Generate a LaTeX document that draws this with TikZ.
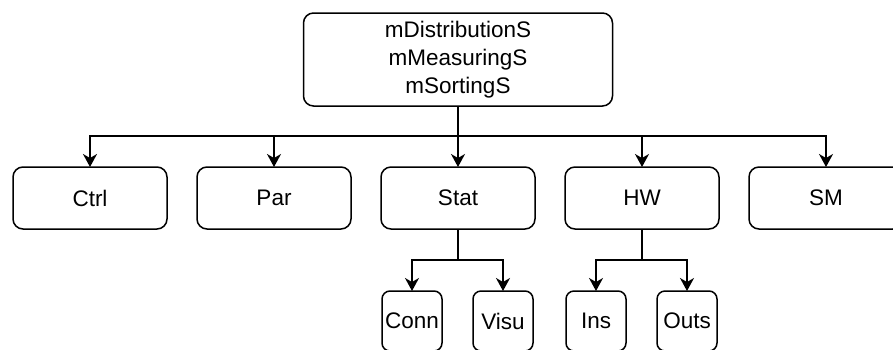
\documentclass[tikz,border=0pt]{standalone}
\usepackage{fontspec}
\setmainfont{Liberation Sans}
\usetikzlibrary{positioning}
\usetikzlibrary{arrows.meta}

\begin{document}
\begin{tikzpicture}[x=1pt,y=1pt,
		blk/.style={rectangle,draw,rounded corners=10pt,line width=1.5pt,outer sep=0pt,minimum width=154pt,minimum height=62pt,font=\fontsize{22.5}{27.7}\selectfont},
		sub/.style={blk,rounded corners=8pt,minimum width=60pt,minimum height=60pt,inner sep=0pt},
		arr/.style={-{Stealth[length=13pt,width=14pt,inset=4pt]},line width=1.5pt}]
		\clip (0,0) rectangle (893,-349);
		\node[blk,align=center,minimum width=309pt,minimum height=93pt] at (458,-59.5) (m0) {mDistributionS\\mMeasuringS\\mSortingS};
		\node [blk,below = 61pt of m0] (m3) {Stat};
		\node [blk,left = 30pt of m3] (m2) {Par};
		\node [blk,left = 30pt of m2] (m1) {Ctrl};
		\node [blk,right = 30pt of m3] (m4) {HW};
		\node [blk,right = 30pt of m4] (m5) {SM};
		\coordinate [below = 30pt of m0.south] (c0);
		\draw [arr] (m0.south) -- (m3.north);
		\draw [arr] (m0.south) -- (c0) -| (m1.north);
		\draw [arr] (m0.south) -- (c0) -| (m2.north);
		\draw [arr] (m0.south) -- (c0) -| (m4.north);
		\draw [arr] (m0.south) -- (c0) -| (m5.north);
		
		\node [sub,below left = 62pt and 16pt of m3.south] (m31) {Conn};
		\node [sub,below right = 62pt and 15pt of m3.south] (m32) {Visu};
		\coordinate [below = 31pt of m3.south] (c3);
		\draw [arr] (m3.south) -- (c3) -| (m31.north);
		\draw [arr] (m3.south) -- (c3) -| (m32.north);
		
		\node [sub,below left = 62pt and 16pt of m4.south] (m41) {Ins};
		\node [sub,below right = 62pt and 15pt of m4.south] (m42) {Outs};
		\coordinate [below = 31pt of m4.south] (c4);
		\draw [arr] (m4.south) -- (c4) -| (m41.north);
		\draw [arr] (m4.south) -- (c4) -| (m42.north);
	\end{tikzpicture}
\end{document}
